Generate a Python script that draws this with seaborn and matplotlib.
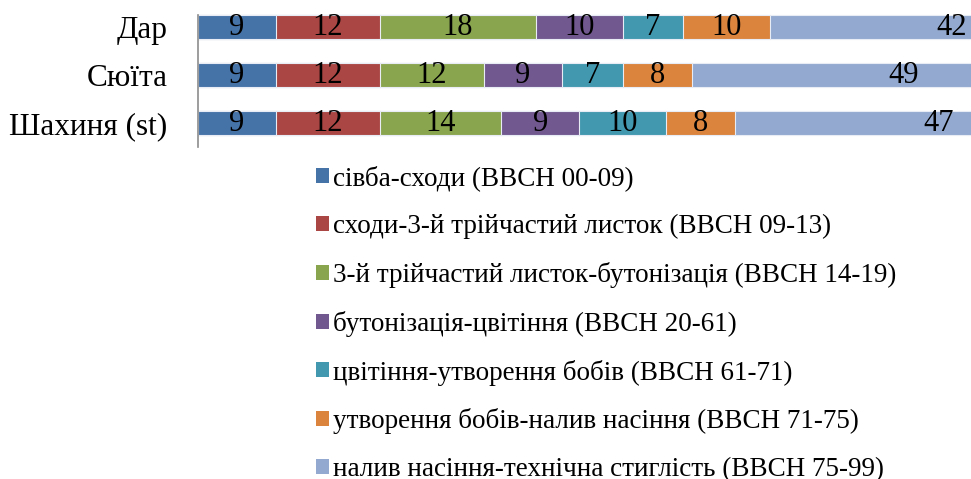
import matplotlib
matplotlib.use("Agg")
import matplotlib.pyplot as plt
import seaborn as sns
import pandas as pd
import numpy as np
from matplotlib.patches import Patch

categories = ["Дар", "Сюїта", "Шахиня (st)"]
series_names = [
    "сівба-сходи (BBCH 00-09)",
    "сходи-3-й трійчастий листок (BBCH 09-13)",
    "3-й трійчастий листок-бутонізація (BBCH 14-19)",
    "бутонізація-цвітіння (BBCH 20-61)",
    "цвітіння-утворення бобів (BBCH 61-71)",
    "утворення бобів-налив насіння (BBCH 71-75)",
    "налив насіння-технічна стиглість (BBCH 75-99)",
]
dar = [9, 12, 18, 10, 7, 10, 42]
suita = [9, 12, 12, 9, 7, 8, 49]
shakhynia = [9, 12, 14, 9, 10, 8, 47]
colors = ["#4572A7", "#AA4643", "#89A54E", "#71588F", "#4198AF", "#DB843D", "#93A9CF"]

sns.set_theme(style="white")
plt.rcParams["font.family"] = ["Liberation Serif", "DejaVu Serif"]

values = np.array([dar, suita, shakhynia])
cum = values.cumsum(axis=1)

W, H = 971, 479
fig = plt.figure(figsize=(W / 100, H / 100), dpi=100)
ax = fig.add_axes([198 / W, 1 - 147 / H, 953 / W, 144 / H])

for j in range(len(series_names) - 1, -1, -1):
    df = pd.DataFrame({"cat": categories, "val": cum[:, j]})
    sns.barplot(data=df, y="cat", x="val", orient="h", color=colors[j],
                width=0.5, saturation=1, edgecolor="#E8ECF4", linewidth=0.8, ax=ax)

for i in range(len(categories)):
    for j in range(len(series_names)):
        v = values[i, j]
        ax.text(cum[i, j] - v / 2, i + 0.02, str(v), ha="center", va="center",
                fontsize=22, color="black")

ax.set_xlim(0, 110)
ax.set_ylim(2.5, -0.5)
ax.set_xlabel("")
ax.set_ylabel("")
ax.set_xticks([])
for s in ["top", "right", "bottom"]:
    ax.spines[s].set_visible(False)
ax.spines["left"].set_color("#8C8C8C")
ax.spines["left"].set_linewidth(1.2)
ax.spines["left"].set_bounds(-0.25, 2.5)
ax.tick_params(axis="y", length=0, pad=22, labelsize=22.5, labelcolor="black")

handles = [Patch(facecolor=c, edgecolor="none") for c in colors]
leg = fig.legend(handles, series_names, loc="upper left",
                 bbox_to_anchor=(316 / W, 1 - 165 / H), frameon=False,
                 fontsize=19.5, handlelength=0.48, handleheight=0.48, handletextpad=0.15,
                 labelspacing=0.845, borderpad=0, borderaxespad=0)
for t in leg.get_texts():
    t.set_color("black")

fig.savefig("out.png", dpi=100)
